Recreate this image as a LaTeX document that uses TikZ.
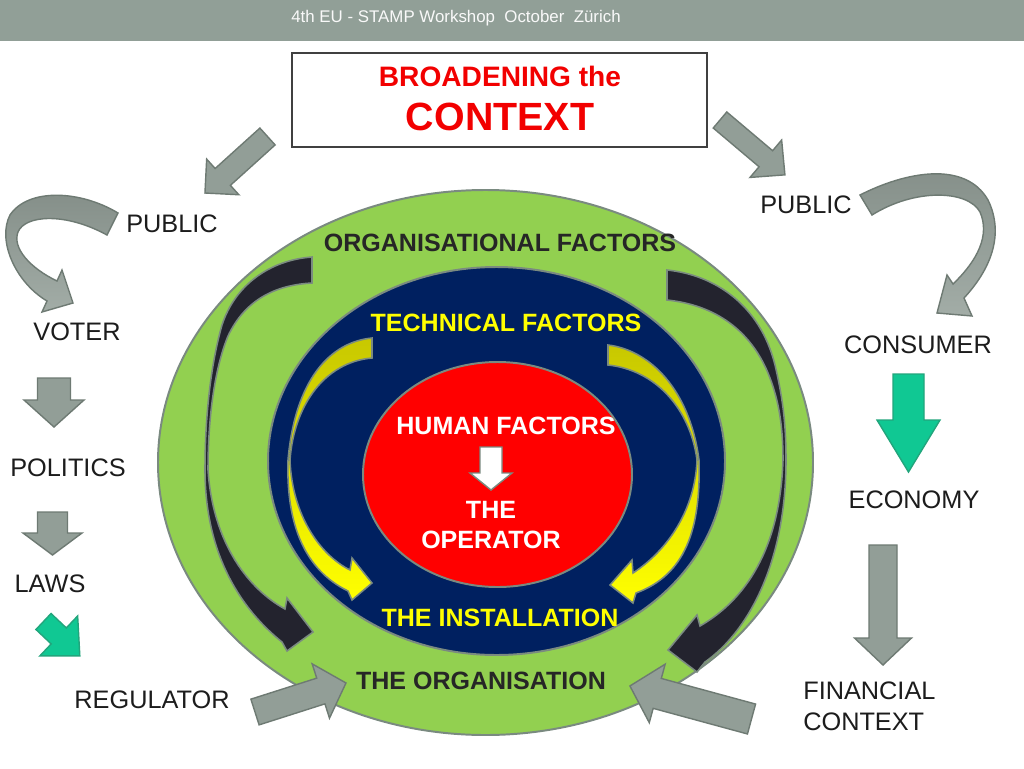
\documentclass[tikz,border=0pt]{standalone}
\usepackage{fontspec}
\setmainfont{Liberation Sans}
\definecolor{hdr}{HTML}{919F97}
\definecolor{titlered}{HTML}{F20000}
\definecolor{ringgreen}{HTML}{92D050}
\definecolor{ringnavy}{HTML}{002060}
\definecolor{ringred}{HTML}{FF0000}
\definecolor{ringgray}{HTML}{7A8A80}
\definecolor{blackarr}{HTML}{23232E}
\definecolor{yeltop}{HTML}{C8C800}
\definecolor{yelbot}{HTML}{FFFF00}
\definecolor{arrgray}{HTML}{929E97}
\definecolor{arrgrayd}{HTML}{6E7A73}
\definecolor{arrgreen}{HTML}{10C893}
\definecolor{arrgreend}{HTML}{22A57C}
\definecolor{txtdark}{HTML}{1C1C1C}
\definecolor{orgtxt}{HTML}{262626}
\newcommand\blockarr[8]{%
  \begin{scope}[shift={(#2,#3)},rotate=#4]
    \draw[#1] (0,{-(#6)/2}) -- ({#5-(#8)},{-(#6)/2}) -- ({#5-(#8)},{-(#7)/2}) -- (#5,0)
      -- ({#5-(#8)},{(#7)/2}) -- ({#5-(#8)},{(#6)/2}) -- (0,{(#6)/2}) -- cycle;
  \end{scope}}
\begin{document}
\begin{tikzpicture}[x=0.25mm,y=-0.25mm,
  ring/.style={draw=ringgray, line width=1.4pt},
  garrow/.style={fill=arrgray, draw=arrgrayd, line width=1pt, line join=miter},
  greenarrow/.style={fill=arrgreen, draw=arrgreend, line width=1pt, line join=miter},
  whitearrow/.style={fill=white, draw=ringgray, line width=1pt, line join=miter},
  blackcurve/.style={fill=blackarr, draw=ringgray, line width=1.1pt, line join=miter},
  yellowcurve/.style={top color=yeltop, bottom color=yelbot, draw=ringgray, line width=1.1pt, line join=miter},
  graycurve/.style={top color=arrgrayd!85!white, bottom color=arrgray!85!white, draw=arrgrayd, line width=1pt, line join=miter},
  lbl/.style={font=\fontsize{18}{21}\selectfont, text=txtdark, inner sep=0pt},
  blbl/.style={font=\fontsize{17.8}{21}\selectfont\bfseries, inner sep=0pt}
]
\useasboundingbox (0,0) rectangle (1024,768);
\fill[white] (0,0) rectangle (1024,768);
% header
\fill[hdr] (0,0) rectangle (1024,41);
\node[font=\fontsize{12}{14}\selectfont, text=white!95!gray, inner sep=0pt] (header) at (456,18)
  {4th EU - STAMP Workshop\ \ October\ \ Zürich};
% title box
\draw[draw=black!75, line width=1.5pt, fill=white] (292,53) rectangle (707,147);
\node[font=\fontsize{20}{24}\selectfont\bfseries, text=titlered, inner sep=0pt] (broad) at (500,76) {BROADENING the};
\node[font=\fontsize{28}{32}\selectfont\bfseries, text=titlered, inner sep=0pt] (context) at (500,117) {CONTEXT};
% rings
\draw[ring, fill=ringgreen] (485.5,462.5) ellipse [x radius=327.5, y radius=272.5];
% black curved arrows
\draw[blackcurve] (312,257) .. controls (270,260) and (235,285) .. (222,325)
   .. controls (212,360) and (205,410) .. (205,470)
   .. controls (205,540) and (230,600) .. (282,642)
   -- (287,651) -- (313,632) -- (287,598) -- (285,609)
   .. controls (250,590) and (213,545) .. (208,470)
   .. controls (208,420) and (214,370) .. (228,336)
   .. controls (245,300) and (275,285) .. (312,283) -- cycle;
\draw[blackcurve] (667,270) .. controls (715,275) and (760,305) .. (775,365)
   .. controls (782,395) and (786,420) .. (786,460)
   .. controls (786,560) and (750,630) .. (705,662)
   -- (697,672) -- (668,650) -- (697,615) -- (700,626)
   .. controls (745,600) and (780,550) .. (783,460)
   .. controls (783,420) and (777,395) .. (768,373)
   .. controls (750,330) and (715,305) .. (667,300) -- cycle;
\draw[ring, fill=ringnavy] (496.5,461) ellipse [x radius=228.5, y radius=194];
% yellow curved arrows
\draw[yellowcurve] (372,338) .. controls (330,342) and (295,380) .. (288,460)
   .. controls (286,525) and (305,570) .. (348,591)
   -- (352,600) -- (372,583) -- (352,558) -- (350,570)
   .. controls (320,555) and (292,515) .. (290,460)
   .. controls (294,405) and (325,362) .. (372,358) -- cycle;
\draw[yellowcurve] (608,345) .. controls (650,350) and (690,390) .. (699,460)
   .. controls (701,530) and (685,575) .. (636,593)
   -- (633,603) -- (610,585) -- (632,560) -- (633,573)
   .. controls (668,550) and (695,510) .. (697,460)
   .. controls (690,408) and (655,370) .. (608,365) -- cycle;
\draw[ring, fill=ringred] (497.5,474.5) ellipse [x radius=134.5, y radius=112.5];
% white arrow in red
\blockarr{whitearrow}{491}{447}{-90}{43}{22}{42}{17}
% ring texts
\node[blbl, text=orgtxt] (orgf) at (500,243) {ORGANISATIONAL FACTORS};
\node[blbl, text=yelbot] (techf) at (506,323) {TECHNICAL FACTORS};
\node[blbl, text=white] (humf) at (506,426) {HUMAN FACTORS};
\node[blbl, text=white, align=center] (oper) at (491,525) {THE\\OPERATOR};
\node[blbl, text=yelbot] (inst) at (500,618) {THE INSTALLATION};
\node[blbl, text=orgtxt] (orga) at (481,681) {THE ORGANISATION};
% outer labels
\node[lbl] (publ) at (172,224) {PUBLIC};
\node[lbl] (pubr) at (806,205) {PUBLIC};
\node[lbl] (voter) at (77,332) {VOTER};
\node[lbl] (politics) at (68,468) {POLITICS};
\node[lbl] (laws) at (50,584) {LAWS};
\node[lbl] (regul) at (152,700) {REGULATOR};
\node[lbl] (consumer) at (918,345) {CONSUMER};
\node[lbl] (economy) at (914,500) {ECONOMY};
\node[lbl, align=left, anchor=west] (fin) at (803,706) {FINANCIAL\\[1pt]CONTEXT};
% straight block arrows
\blockarr{garrow}{267.5}{136.5}{222.1}{84.3}{22.7}{48}{24}
\blockarr{garrow}{720}{120}{-40.2}{85}{21}{49}{25}
\blockarr{garrow}{255}{712}{17.7}{95.5}{27}{57}{26.4}
\blockarr{garrow}{751.5}{719}{164.8}{126}{31}{60.6}{28.3}
\blockarr{garrow}{54}{378}{-90}{49}{33}{60}{27}
\blockarr{garrow}{52.5}{512}{-90}{43}{30}{59}{22}
\blockarr{greenarrow}{43.5}{621.5}{-43.4}{50}{22}{55}{29}
\blockarr{greenarrow}{908.5}{374}{-90}{98}{31}{63}{52}
\blockarr{garrow}{883}{545}{-90}{120}{28}{57}{27}
% curved gray arrows
\draw[graycurve] (118,213) .. controls (80,190) and (28,188) .. (10,215)
   .. controls (-3,240) and (15,282) .. (47,301)
   -- (42,312) -- (73,303) -- (62,270) -- (57,281)
   .. controls (30,268) and (12,248) .. (18,232)
   .. controls (25,215) and (65,212) .. (107,235) -- cycle;
\draw[graycurve] (860,195) .. controls (905,172) and (965,160) .. (988,200)
   .. controls (1005,235) and (990,270) .. (964,298)
   -- (972,316) -- (937,313) -- (947,275) -- (953,284)
   .. controls (978,260) and (990,235) .. (980,212)
   .. controls (968,190) and (915,188) .. (872,215) -- cycle;
\end{tikzpicture}
\end{document}
